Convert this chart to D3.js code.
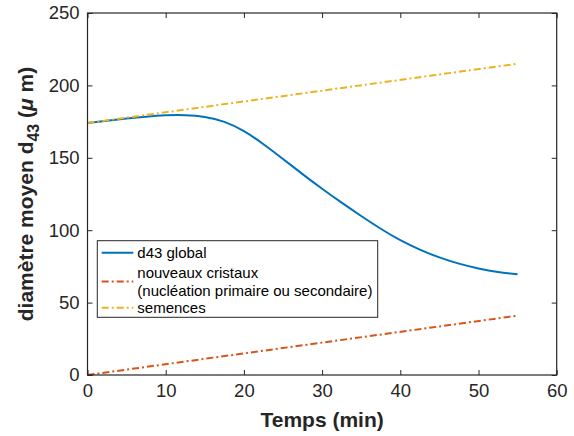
<!DOCTYPE html>
<html><head><meta charset="utf-8">
<script src="https://cdn.jsdelivr.net/npm/d3@7"></script>
<style>body{margin:0;background:#fff}svg{display:block;font-family:"Liberation Sans",Arial,Helvetica,sans-serif}</style>
</head><body><svg id="c" width="574" height="436"></svg>
<script>
const timeGlobal = [0,2.5,5,7.5,10,12.5,15,17.5,20,22.5,25,27.5,30,32.5,35,37.5,40,42.5,45,47.5,50,52.5,55];
const d43Global  = [174,175.6,177.1,178.4,179.3,179.4,178.2,174.8,168.4,159.4,149.2,138.7,128.6,119,109.8,101,93.1,86.6,81.2,76.9,73.6,71.2,69.6];
const timeLin = [0,11,22,33,44,55];
const nouveauxCristaux = [0,8.2,16.4,24.6,32.8,41];
const semences = [174,182.2,190.4,198.6,206.8,215];
const xTicks = [0,10,20,30,40,50,60];
const yTicks = [0,50,100,150,200,250];
const legendLabels = [["d43 global"],["nouveaux cristaux","(nucléation primaire ou secondaire)"],["semences"]];
const colors = ["#0072BD","#D95319","#EDB120"];

const svg = d3.select("#c");
const L=87.5,R=556.7,T=13,B=375;
const x = d3.scaleLinear().domain([0,60]).range([L,R]);
const y = d3.scaleLinear().domain([0,250]).range([B,T]);
const axCol="#262626";

// lines
const line = d3.line().x(d=>x(d[0])).y(d=>y(d[1]));
const dashDot = "7,3,2,3";
svg.append("path").datum(timeGlobal.map((t,i)=>[t,d43Global[i]])).attr("d",d3.line().x(d=>x(d[0])).y(d=>y(d[1])).curve(d3.curveNatural))
  .attr("fill","none").attr("stroke",colors[0]).attr("stroke-width",2);
svg.append("path").datum(timeLin.map((t,i)=>[t,nouveauxCristaux[i]])).attr("d",line)
  .attr("fill","none").attr("stroke",colors[1]).attr("stroke-width",2).attr("stroke-dasharray",dashDot);
svg.append("path").datum(timeLin.map((t,i)=>[t,semences[i]])).attr("d",line)
  .attr("fill","none").attr("stroke",colors[2]).attr("stroke-width",2).attr("stroke-dasharray",dashDot);

// axes
const fs = 18.5;
const gx = svg.append("g").attr("transform",`translate(0,${B})`)
  .call(d3.axisBottom(x).tickValues(xTicks).tickSize(-5).tickPadding(9).tickFormat(d3.format("d")));
const gy = svg.append("g").attr("transform",`translate(${L},0)`)
  .call(d3.axisLeft(y).tickValues(yTicks).tickSize(-5).tickPadding(8).tickFormat(d3.format("d")));
const gx2 = svg.append("g").attr("transform",`translate(0,${T})`)
  .call(d3.axisTop(x).tickValues(xTicks).tickSize(-5).tickFormat(""));
const gy2 = svg.append("g").attr("transform",`translate(${R},0)`)
  .call(d3.axisRight(y).tickValues(yTicks).tickSize(-5).tickFormat(""));
[gx,gy,gx2,gy2].forEach(g=>{
  g.selectAll("path").attr("stroke",axCol).attr("stroke-width",1.2).attr("d",null);
  g.selectAll("line").attr("stroke",axCol).attr("stroke-width",1);
  g.selectAll("text").attr("fill",axCol).style("font-size",fs+"px").style("font-family","Liberation Sans, Arial, sans-serif");
});
svg.append("rect").attr("x",L).attr("y",T).attr("width",R-L).attr("height",B-T)
  .attr("fill","none").attr("stroke",axCol).attr("stroke-width",1.2);

// axis titles
svg.append("text").attr("x",(L+R)/2).attr("y",427).attr("text-anchor","middle")
  .attr("fill",axCol).style("font-size","21px").style("font-weight","bold").text("Temps (min)");
const yt = svg.append("text").attr("transform",`translate(33,${(T+B)/2}) rotate(-90)`).attr("text-anchor","middle")
  .attr("fill",axCol).style("font-size","21px").style("font-weight","bold");
yt.append("tspan").text("diamètre moyen d");
yt.append("tspan").attr("dy",6).style("font-size","16px").text("43");
yt.append("tspan").attr("dy",-6).text(" (");
yt.append("tspan").style("font-style","italic").text("μ");
yt.append("tspan").text(" m)");

// legend
const lg = svg.append("g");
lg.append("rect").attr("x",97.3).attr("y",240.7).attr("width",280.4).attr("height",76.6)
  .attr("fill","#fff").attr("stroke",axCol).attr("stroke-width",1);
const rowY = [[252.7],[272.3,291],[307.7]];
const lineY = [252.7,281.5,307.7];
legendLabels.forEach((labs,i)=>{
  const l = lg.append("line").attr("x1",101.7).attr("x2",133.3).attr("y1",lineY[i]).attr("y2",lineY[i])
    .attr("stroke",colors[i]).attr("stroke-width",2);
  if(i>0) l.attr("stroke-dasharray",dashDot);
  labs.forEach((s,j)=>{
    lg.append("text").attr("x",137.3).attr("y",rowY[i][j]).attr("dy","0.35em")
      .attr("fill","#000").style("font-size","15px").text(s);
  });
});
</script></body></html>
